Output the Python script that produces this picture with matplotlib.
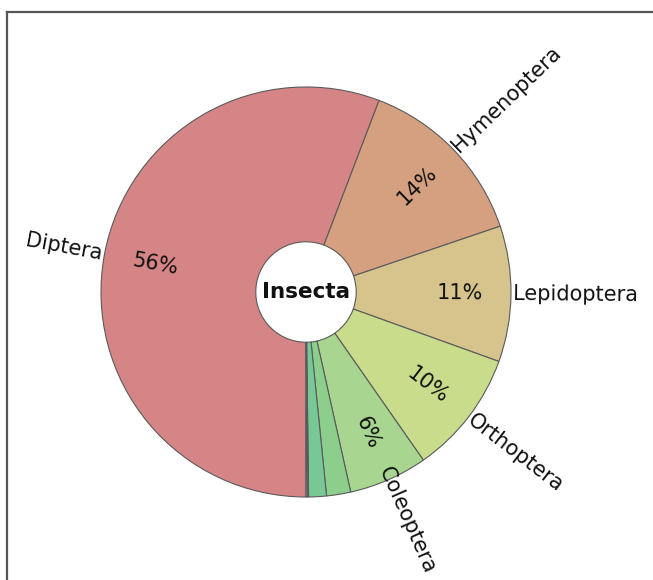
import matplotlib
matplotlib.use("Agg")
import matplotlib.pyplot as plt
from matplotlib.lines import Line2D


orders = ["Diptera", "Hymenoptera", "Lepidoptera", "Orthoptera", "Coleoptera", "", "", "", ""]
shares = [55.8, 14.0, 10.7, 9.8, 6.2, 1.9, 1.4, 0.1, 0.1]
colors = ["#d68587", "#d4a080", "#d6c48c", "#c8dc8c", "#a8d690",
          "#8cce8c", "#78c896", "#111111", "#f0e4e6"]

W, H = 653, 580
cx, cy, R = 306, 292, 205   # pie centre and radius in pixels
hole = 0.245

fig = plt.figure(figsize=(W / 100, H / 100), dpi=100)
ax = fig.add_axes([0, 0, 1, 1])


def pct(p):
    return "%.0f%%" % p if p >= 3 else ""


wedges, texts, autotexts = ax.pie(
    shares, labels=orders, colors=colors, autopct=pct,
    startangle=270, counterclock=False, rotatelabels=True,
    labeldistance=1.01, pctdistance=0.75,
    wedgeprops=dict(width=1 - hole, edgecolor="#5a5a5a", linewidth=0.8),
    textprops=dict(fontsize=15, color="#111111"),
)

# names start right at the rim, percentages turned the same way
for t, a in zip(texts, autotexts):
    t.set_verticalalignment("center")
    t.set_rotation_mode("anchor")
    a.set_rotation(t.get_rotation())
    a.set_fontsize(15)

# pull the bottom name in a little so it fits better
x, y = texts[4].get_position()
texts[4].set_position((x * 0.93, y * 0.93))

ax.text(0, 0, "Insecta", ha="center", va="center", fontsize=15.5,
        fontweight="bold", color="#111111")

ax.set_xlim(-cx / R, (W - cx) / R)
ax.set_ylim(-(H - cy) / R, cy / R)
ax.set_axis_off()

# border around the panel
fig.add_artist(Line2D([7 / W, 7 / W], [0, 1 - 12 / H], transform=fig.transFigure,
                      color="#555555", linewidth=1.6))
fig.add_artist(Line2D([7 / W, 1], [1 - 12 / H, 1 - 12 / H], transform=fig.transFigure,
                      color="#555555", linewidth=1.6))

fig.savefig("out.png", dpi=100)
